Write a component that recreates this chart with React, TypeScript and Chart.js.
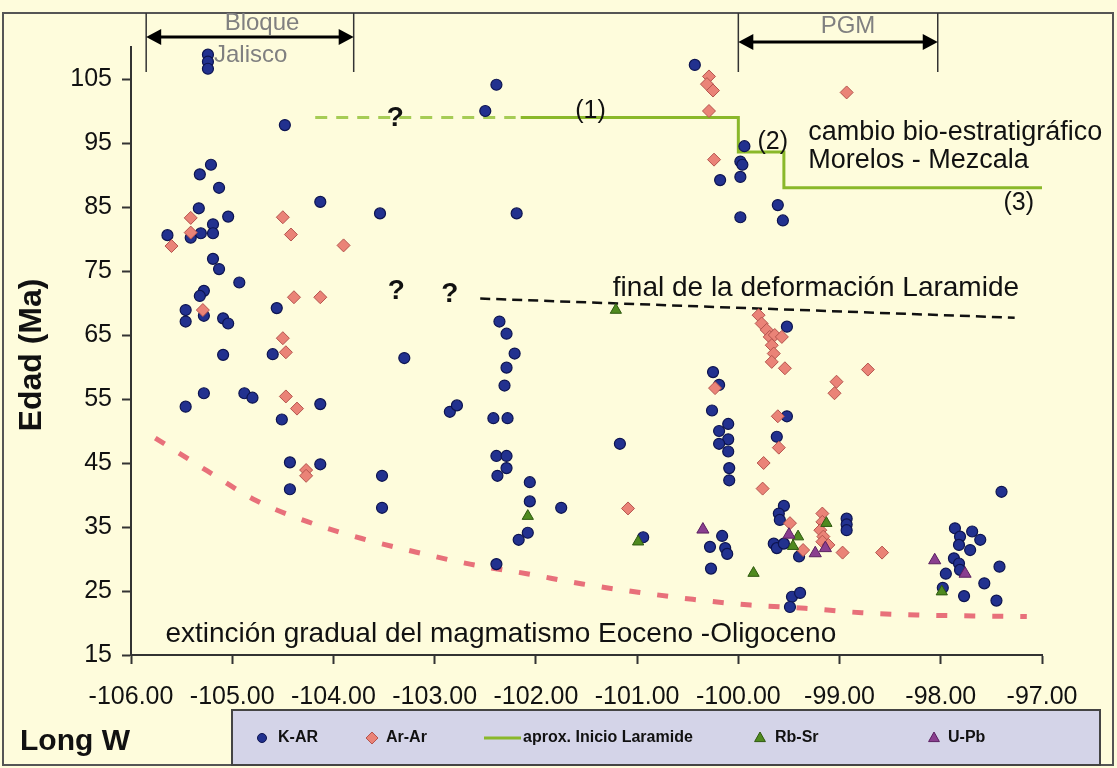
import React, { useEffect, useRef } from 'react';
import { Chart, registerables } from 'chart.js';

Chart.register(...registerables);

type P = [number, number];

// Axis ticks (longitude west, age in Ma)
const X_TICKS = [-106, -105, -104, -103, -102, -101, -100, -99, -98, -97];
const Y_TICKS = [15, 25, 35, 45, 55, 65, 75, 85, 95, 105];

// K-Ar ages
const kAr: P[] = [
  [-105.24, 108.8], [-105.24, 107.7], [-105.24, 106.6], [-104.48, 97.8],
  [-105.21, 91.6], [-105.32, 90.1], [-105.13, 88.0], [-104.13, 85.8], [-103.54, 84.0],
  [-105.33, 84.8], [-105.04, 83.5], [-105.64, 80.6], [-105.19, 82.3], [-105.19, 80.9],
  [-105.31, 80.9], [-105.41, 80.2], [-105.19, 76.9], [-105.13, 75.3], [-104.93, 73.2],
  [-105.28, 71.9], [-105.32, 71.1], [-104.56, 69.2], [-105.46, 68.9], [-105.46, 67.1],
  [-105.28, 68.0], [-105.09, 67.6], [-105.04, 66.8], [-105.09, 61.9], [-104.60, 62.0],
  [-103.30, 61.4], [-105.28, 55.9], [-105.46, 53.8], [-104.88, 55.9], [-104.80, 55.2],
  [-104.13, 54.2], [-104.51, 51.8], [-104.43, 45.1], [-104.13, 44.8], [-104.43, 40.9],
  [-103.52, 43.0], [-103.52, 38.0],
  [-102.39, 104.1], [-102.50, 100.0], [-100.43, 107.2], [-102.19, 84.0],
  [-102.36, 67.1], [-102.29, 65.2], [-102.21, 62.1], [-102.29, 59.9], [-102.31, 57.1],
  [-102.85, 53.0], [-102.78, 54.0], [-102.42, 52.0], [-102.28, 52.0],
  [-102.39, 46.1], [-102.29, 46.1], [-102.29, 44.2], [-102.38, 43.0],
  [-102.06, 42.0], [-102.06, 39.0], [-101.75, 38.0], [-102.08, 34.1], [-102.17, 33.0],
  [-102.39, 29.2], [-101.17, 48.0], [-100.94, 33.4],
  [-100.18, 89.2], [-99.94, 94.5], [-99.98, 92.1], [-99.96, 91.6], [-99.98, 89.7],
  [-99.98, 83.4], [-99.61, 85.3], [-99.56, 82.9],
  [-100.25, 59.2], [-100.19, 57.2], [-100.26, 53.2], [-100.10, 51.1], [-100.19, 50.0],
  [-100.10, 48.7], [-100.19, 48.0], [-100.10, 46.8], [-100.09, 44.2], [-100.09, 42.3],
  [-100.16, 33.6], [-100.28, 31.9], [-100.13, 31.7], [-100.11, 30.8], [-100.27, 28.5],
  [-99.52, 66.3], [-99.52, 52.3], [-99.62, 49.1], [-99.55, 38.3], [-99.60, 37.1],
  [-99.59, 36.1], [-99.65, 32.4], [-99.62, 31.7], [-99.55, 32.4], [-99.40, 30.4],
  [-99.47, 24.1], [-99.39, 24.7], [-99.49, 22.5],
  [-98.93, 36.3], [-98.93, 35.4], [-98.93, 34.5],
  [-97.98, 25.5], [-97.95, 27.7], [-97.86, 34.8], [-97.81, 33.5], [-97.69, 34.3],
  [-97.61, 33.0], [-97.71, 31.4], [-97.82, 32.2], [-97.87, 30.1], [-97.82, 29.3],
  [-97.81, 28.3], [-97.77, 24.2], [-97.57, 26.2], [-97.42, 28.8], [-97.45, 23.5],
  [-97.40, 40.5],
];

// Ar-Ar ages
const arAr: P[] = [
  [-105.41, 83.3], [-105.41, 81.0], [-105.60, 78.9], [-104.50, 83.4], [-104.42, 80.7],
  [-103.90, 79.0], [-104.39, 70.9], [-104.13, 70.9], [-105.29, 68.9], [-104.50, 64.5],
  [-104.47, 62.3], [-104.47, 55.4], [-104.36, 53.5], [-104.27, 43.9], [-104.27, 43.0],
  [-100.29, 105.4], [-100.31, 104.2], [-100.25, 103.2], [-100.29, 100.0], [-100.24, 92.4],
  [-98.93, 102.9], [-101.09, 37.9], [-100.23, 56.7],
  [-99.80, 68.1], [-99.77, 66.8], [-99.72, 65.8], [-99.69, 64.7], [-99.64, 65.0],
  [-99.57, 64.7], [-99.67, 63.4], [-99.65, 62.1], [-99.67, 60.8], [-99.54, 59.8],
  [-98.72, 59.6], [-99.03, 57.7], [-99.05, 55.9],
  [-99.61, 52.3], [-99.60, 47.4], [-99.75, 45.0], [-99.76, 41.0],
  [-99.49, 35.6], [-99.36, 31.4],
  [-99.17, 37.1], [-99.17, 35.8], [-99.19, 34.5], [-99.16, 33.5], [-99.17, 32.7],
  [-99.11, 32.2], [-98.97, 31.0], [-98.58, 31.0],
];

// Rb-Sr ages
const rbSr: P[] = [
  [-101.21, 68.9], [-102.08, 36.7], [-100.99, 32.7], [-99.85, 27.8],
  [-99.41, 33.5], [-99.46, 32.0], [-99.13, 35.6], [-97.99, 24.9],
];

// U-Pb ages
const uPb: P[] = [
  [-100.35, 34.6], [-99.50, 33.8], [-99.24, 30.9], [-99.14, 31.7], [-98.06, 29.8], [-97.76, 27.7],
];

// Approximate onset of the Laramide deformation (stepped, solid)
const laramideStart: P[] = [
  [-102.15, 99.0], [-100.0, 99.0], [-100.0, 93.6], [-99.55, 93.6], [-99.55, 88.0], [-97.0, 88.0],
];

// Uncertain westward continuation of the onset
const laramideUncertain: P[] = [[-104.18, 99.0], [-102.2, 99.0]];

// End of the Laramide deformation
const laramideEnd: P[] = [[-102.55, 70.7], [-97.27, 67.7]];

// Gradual extinction of Eocene-Oligocene magmatism
const extinction: P[] = [
  [-105.76, 48.9], [-105.25, 43.8], [-104.76, 39.1], [-104.25, 35.8], [-103.72, 33.2],
  [-103.19, 31.1], [-102.65, 29.2], [-102.09, 27.7], [-101.54, 26.1], [-100.99, 24.8],
  [-100.45, 23.7], [-99.88, 22.8], [-99.34, 22.3], [-98.78, 21.6], [-98.22, 21.25],
  [-97.68, 21.1], [-97.15, 21.0],
];

const FONT = 'Arial, "Liberation Sans", Helvetica, sans-serif';

const COLORS = {
  bg: '#fefcdc',
  kArFill: '#22318f',
  kArEdge: '#0d1450',
  arArFill: '#ea8377',
  arArEdge: '#b5544e',
  rbSrFill: '#4f8a1f',
  rbSrEdge: '#2f5a10',
  uPbFill: '#8a3f8f',
  uPbEdge: '#5a2060',
  onset: '#8ab82a',
  onsetDash: '#a6cc55',
  extinction: '#e8707a',
  legendBg: '#d4d4e8',
};

const toXY = (arr: P[]) => arr.map(([x, y]) => ({ x, y }));

function drawMarker(ctx: CanvasRenderingContext2D, kind: string, x: number, y: number, r: number, fill: string, edge: string) {
  ctx.beginPath();
  if (kind === 'circle') {
    ctx.arc(x, y, r, 0, Math.PI * 2);
  } else if (kind === 'diamond') {
    ctx.moveTo(x, y - r);
    ctx.lineTo(x + r, y);
    ctx.lineTo(x, y + r);
    ctx.lineTo(x - r, y);
    ctx.closePath();
  } else {
    ctx.moveTo(x, y - r);
    ctx.lineTo(x + r * 0.9, y + r * 0.6);
    ctx.lineTo(x - r * 0.9, y + r * 0.6);
    ctx.closePath();
  }
  ctx.fillStyle = fill;
  ctx.fill();
  ctx.strokeStyle = edge;
  ctx.lineWidth = 1;
  ctx.stroke();
}

function drawArrow(ctx: CanvasRenderingContext2D, x1: number, x2: number, yy: number) {
  ctx.strokeStyle = '#000';
  ctx.fillStyle = '#000';
  ctx.lineWidth = 3;
  ctx.beginPath();
  ctx.moveTo(x1 + 10, yy);
  ctx.lineTo(x2 - 10, yy);
  ctx.stroke();
  ctx.beginPath();
  ctx.moveTo(x1, yy);
  ctx.lineTo(x1 + 15, yy - 8);
  ctx.lineTo(x1 + 15, yy + 8);
  ctx.closePath();
  ctx.fill();
  ctx.beginPath();
  ctx.moveTo(x2, yy);
  ctx.lineTo(x2 - 15, yy - 8);
  ctx.lineTo(x2 - 15, yy + 8);
  ctx.closePath();
  ctx.fill();
}

const decorations = {
  id: 'decorations',
  beforeDraw(chart: any) {
    const { ctx, width, height } = chart;
    ctx.save();
    ctx.fillStyle = COLORS.bg;
    ctx.fillRect(0, 0, width, height);
    ctx.restore();
  },
  afterDraw(chart: any) {
    const { ctx } = chart;
    const xs = chart.scales.x;
    const ys = chart.scales.y;
    const px = (v: number) => xs.getPixelForValue(v);
    const py = (v: number) => ys.getPixelForValue(v);
    ctx.save();

    // outer frame
    ctx.strokeStyle = '#555';
    ctx.lineWidth = 2;
    ctx.strokeRect(3, 13, 1110, 752);

    // region brackets: Bloque Jalisco and PGM
    const brackets = [
      { from: -105.85, to: -103.8 },
      { from: -100.0, to: -98.03 },
    ];
    ctx.strokeStyle = '#333';
    ctx.lineWidth = 1.5;
    for (const b of brackets) {
      for (const v of [b.from, b.to]) {
        ctx.beginPath();
        ctx.moveTo(px(v), 13);
        ctx.lineTo(px(v), 72);
        ctx.stroke();
      }
    }
    drawArrow(ctx, px(-105.85), px(-103.8), 37);
    drawArrow(ctx, px(-100.0), px(-98.03), 42);

    ctx.fillStyle = '#808080';
    ctx.font = `24px ${FONT}`;
    ctx.textBaseline = 'middle';
    ctx.textAlign = 'center';
    ctx.fillText('Bloque', 262, 23);
    ctx.fillText('PGM', 848, 26);
    ctx.textAlign = 'left';
    ctx.fillText('Jalisco', 214, 55);

    // annotations inside the plot
    ctx.fillStyle = '#111';
    ctx.font = `25px ${FONT}`;
    ctx.textAlign = 'center';
    ctx.fillText('(1)', px(-101.46), py(100.0));
    ctx.fillText('(2)', px(-99.66), py(95.2));
    ctx.fillText('(3)', px(-97.23), py(85.6));

    ctx.font = `27px ${FONT}`;
    ctx.textAlign = 'left';
    ctx.fillText('cambio bio-estratigráfico', px(-99.31), py(96.6));
    ctx.fillText('Morelos - Mezcala', px(-99.31), py(92.3));
    ctx.font = `28px ${FONT}`;
    ctx.fillText('final de la deformación Laramide', px(-101.24), py(72.3));
    ctx.fillText('extinción gradual del magmatismo Eoceno -Oligoceno', px(-105.66), py(18.3));

    ctx.font = `bold 28px ${FONT}`;
    ctx.textAlign = 'center';
    ctx.fillText('?', px(-103.39), py(98.9));
    ctx.fillText('?', px(-103.38), py(71.9));
    ctx.fillText('?', px(-102.85), py(71.4));

    // axis titles
    ctx.fillStyle = '#111';
    ctx.font = `bold 32px ${FONT}`;
    ctx.save();
    ctx.translate(32, 355);
    ctx.rotate(-Math.PI / 2);
    ctx.textAlign = 'center';
    ctx.fillText('Edad (Ma)', 0, 0);
    ctx.restore();
    ctx.textAlign = 'left';
    ctx.font = `bold 30px ${FONT}`;
    ctx.fillText('Long W', 20, 742);

    // legend
    const lg = { left: 232, top: 710, right: 1100, bottom: 765 };
    ctx.fillStyle = COLORS.legendBg;
    ctx.fillRect(lg.left, lg.top, lg.right - lg.left, lg.bottom - lg.top);
    ctx.strokeStyle = '#444';
    ctx.lineWidth = 2;
    ctx.strokeRect(lg.left, lg.top, lg.right - lg.left, lg.bottom - lg.top);
    const cy = 738;
    const ds = chart.data.datasets;
    drawMarker(ctx, 'circle', 262, cy, 4.5, COLORS.kArFill, COLORS.kArEdge);
    drawMarker(ctx, 'diamond', 372, cy, 6, COLORS.arArFill, COLORS.arArEdge);
    ctx.strokeStyle = COLORS.onset;
    ctx.lineWidth = 3;
    ctx.beginPath();
    ctx.moveTo(484, cy);
    ctx.lineTo(521, cy);
    ctx.stroke();
    drawMarker(ctx, 'triangle', 760, cy, 6, COLORS.rbSrFill, COLORS.rbSrEdge);
    drawMarker(ctx, 'triangle', 934, cy, 6, COLORS.uPbFill, COLORS.uPbEdge);
    ctx.fillStyle = '#111';
    ctx.font = `bold 16px ${FONT}`;
    ctx.textAlign = 'left';
    ctx.textBaseline = 'middle';
    ctx.fillText(ds[0].label, 278, cy);
    ctx.fillText(ds[1].label, 386, cy);
    ctx.fillText(ds[4].label, 523, cy);
    ctx.fillText(ds[2].label, 775, cy);
    ctx.fillText(ds[3].label, 948, cy);

    ctx.restore();
  },
};

export default function App() {
  const canvasRef = useRef<HTMLCanvasElement | null>(null);

  useEffect(() => {
    document.body.style.margin = '0';
    const canvas = canvasRef.current;
    if (!canvas) return;
    const axisGrid = {
      display: true,
      drawOnChartArea: false,
      drawTicks: true,
      tickLength: 9,
      tickColor: '#333',
      tickWidth: 2,
    };
    const chart = new Chart(canvas, {
      type: 'scatter',
      data: {
        datasets: [
          {
            label: 'K-AR',
            data: toXY(kAr),
            pointStyle: 'circle',
            pointRadius: 5.5,
            backgroundColor: COLORS.kArFill,
            borderColor: COLORS.kArEdge,
            borderWidth: 1.2,
            order: 4,
          },
          {
            label: 'Ar-Ar',
            data: toXY(arAr),
            pointStyle: 'rectRot',
            pointRadius: 6.5,
            backgroundColor: COLORS.arArFill,
            borderColor: COLORS.arArEdge,
            borderWidth: 1,
            order: 3,
          },
          {
            label: 'Rb-Sr',
            data: toXY(rbSr),
            pointStyle: 'triangle',
            pointRadius: 6.5,
            backgroundColor: COLORS.rbSrFill,
            borderColor: COLORS.rbSrEdge,
            borderWidth: 1,
            order: 2,
          },
          {
            label: 'U-Pb',
            data: toXY(uPb),
            pointStyle: 'triangle',
            pointRadius: 7,
            backgroundColor: COLORS.uPbFill,
            borderColor: COLORS.uPbEdge,
            borderWidth: 1,
            order: 1,
          },
          {
            label: 'aprox. Inicio Laramide',
            data: toXY(laramideStart),
            showLine: true,
            borderColor: COLORS.onset,
            borderWidth: 3,
            pointRadius: 0,
            tension: 0,
            order: 10,
          },
          {
            label: 'onset (uncertain)',
            data: toXY(laramideUncertain),
            showLine: true,
            borderColor: COLORS.onsetDash,
            borderDash: [12, 9],
            borderWidth: 3,
            pointRadius: 0,
            order: 10,
          },
          {
            label: 'final de la deformación Laramide',
            data: toXY(laramideEnd),
            showLine: true,
            borderColor: '#111',
            borderDash: [10, 6],
            borderWidth: 2.5,
            pointRadius: 0,
            order: 10,
          },
          {
            label: 'extinción gradual',
            data: toXY(extinction),
            showLine: true,
            borderColor: COLORS.extinction,
            borderDash: [11, 17],
            borderWidth: 5,
            pointRadius: 0,
            cubicInterpolationMode: 'monotone',
            order: 10,
          },
        ],
      },
      options: {
        responsive: false,
        maintainAspectRatio: false,
        devicePixelRatio: 1,
        animation: false,
        events: [],
        layout: { padding: { left: 0, top: 47, right: 75, bottom: 0 } },
        plugins: {
          legend: { display: false },
          tooltip: { enabled: false },
        },
        scales: {
          x: {
            type: 'linear',
            min: -106,
            max: -97,
            afterBuildTicks: (s: any) => {
              s.ticks = X_TICKS.map((value) => ({ value }));
            },
            afterFit: (s: any) => {
              s.height = 113;
            },
            ticks: {
              autoSkip: false,
              maxRotation: 0,
              padding: 18,
              color: '#111',
              font: { family: FONT, size: 25 },
              callback: (v: any) => Number(v).toFixed(2),
            },
            grid: axisGrid,
            border: { display: true, color: '#333', width: 2 },
          },
          y: {
            type: 'linear',
            min: 15,
            max: 110,
            afterBuildTicks: (s: any) => {
              s.ticks = Y_TICKS.map((value) => ({ value }));
            },
            afterFit: (s: any) => {
              s.width = 131;
            },
            ticks: {
              padding: 10,
              color: '#111',
              font: { family: FONT, size: 25 },
            },
            grid: axisGrid,
            border: { display: true, color: '#333', width: 2 },
          },
        },
      },
      plugins: [decorations],
    } as any);
    return () => chart.destroy();
  }, []);

  return (
    <div style={{ width: 1117, height: 768 }}>
      <canvas ref={canvasRef} width={1117} height={768} style={{ display: 'block' }} />
    </div>
  );
}
